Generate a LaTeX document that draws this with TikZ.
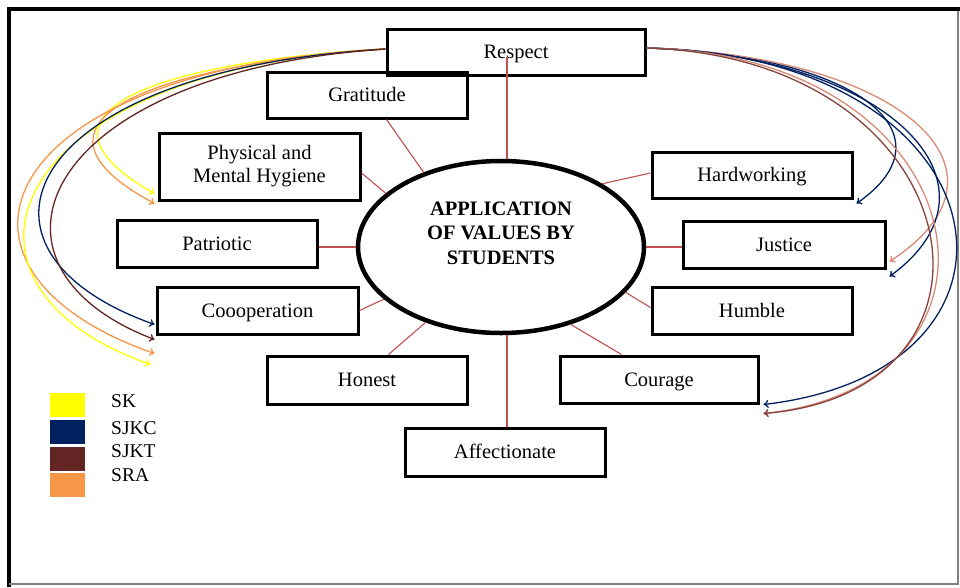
\documentclass[tikz,border=0pt]{standalone}
\usepackage{fontspec}
\setmainfont{Liberation Serif}
\usetikzlibrary{calc,arrows.meta,shapes.geometric}
\definecolor{skY}{HTML}{FFFF00}
\definecolor{sjkcB}{HTML}{002060}
\definecolor{sjktM}{HTML}{632523}
\definecolor{sraO}{HTML}{F79646}
\definecolor{linkR}{HTML}{C0504D}
\definecolor{salm}{HTML}{D98A76}
\begin{document}
\begin{tikzpicture}[x=1pt,y=-1pt,
  boxbase/.style={draw,line width=3pt,rectangle,inner sep=0pt,
    font=\fontsize{20.5}{23}\selectfont},
  box/.style={boxbase,text height=16pt,text depth=2.5pt},
  conn/.style={draw=linkR,line width=1.1pt},
  crv/.style={line width=1.3pt,-{To[length=5pt,width=8pt]}},
  legsq/.style={rectangle,inner sep=0pt,minimum width=35pt,minimum height=24pt},
  leglab/.style={anchor=west,inner sep=0pt,font=\fontsize{19.5}{22}\selectfont}
]
\useasboundingbox (0,0) rectangle (960,587);
\fill[white] (0,0) rectangle (960,587);
% frame
\draw[line width=4pt] (8.8,587) -- (8.8,8.8) -- (960,8.8);
\draw[gray,line width=1.2pt] (8.8,584) -- (958,584) -- (958,10.8);

% central ellipse
\node[ellipse,draw,line width=4.5pt,minimum width=286pt,minimum height=172pt,inner sep=0pt] (c) at (501,247) {};
\node[font=\bfseries\fontsize{20.5}{24.5}\selectfont,align=center] (title) at (501,233) {APPLICATION\\OF VALUES BY\\STUDENTS};

% boxes
\node[box,minimum width=258pt,minimum height=46pt] (respect) at (516,52) {Respect};
\node[box,minimum width=200pt,minimum height=46pt] (grat) at (367,95) {Gratitude};
\node[boxbase,align=center,minimum width=201pt,minimum height=67pt] (phys) at (259.5,166.5) {Physical and\\Mental Hygiene};
\node[box,minimum width=200pt,minimum height=47pt] (patr) at (217,243.5) {Patriotic};
\node[box,minimum width=201pt,minimum height=47pt] (coop) at (257.5,310.5) {Coooperation};
\node[box,minimum width=200pt,minimum height=48pt] (honest) at (367,380) {Honest};
\node[box,minimum width=200pt,minimum height=48pt] (affect) at (505,452) {Affectionate};
\node[box,minimum width=198pt,minimum height=47pt] (courage) at (659,379.5) {Courage};
\node[box,minimum width=200pt,minimum height=47pt] (humble) at (752,310.5) {Humble};
\node[box,minimum width=202pt,minimum height=47pt] (justice) at (784,244.5) {Justice};
\node[box,minimum width=200pt,minimum height=46pt] (hard) at (752,175) {Hardworking};

% connectors to the ellipse
\coordinate (rtop) at (507,57);
\draw[conn] (rtop) -- (rtop |- c.north);
\draw[conn] ($(grat.south west)+(121,0)$) -- (c.136);
\draw[conn] ($(phys.east)+(0,6.5)$) -- (c.155);
\draw[conn] (patr.east |- c.west) -- (c.west);
\draw[conn] (coop.east) -- (c.204);
\draw[conn] ($(honest.north west)+(123,0)$) -- (c.225);
\draw[conn] (affect.north -| rtop) -- (rtop |- c.south);
\draw[conn] ($(courage.north west)+(63,0)$) -- (c.312);
\draw[conn] ($(humble.west)+(0,-3)$) -- (c.340);
\draw[conn] (c.east) -- (c.east -| justice.west);
\draw[conn] ($(hard.west)+(0,-2)$) -- (c.32);

% curve end points
\coordinate (lS) at ($(respect.west)+(0,-3)$);
\coordinate (rS) at ($(respect.east)+(0,-4)$);
\coordinate (physE1) at ($(phys.south west)+(-3,-8)$);
\coordinate (physE2) at ($(phys.south west)+(-3,2)$);
\coordinate (coopE1) at ($(coop.south west)+(-1,-11)$);
\coordinate (coopE2) at ($(coop.south west)+(-1,4)$);
\coordinate (coopE3) at ($(coop.south west)+(-1,18)$);
\coordinate (coopE4) at ($(coop.south west)+(-5,29)$);
\coordinate (hardE) at ($(hard.south east)+(3,4)$);
\coordinate (justE1) at ($(justice.south east)+(3,-8)$);
\coordinate (justE2) at ($(justice.south east)+(3,7)$);
\coordinate (courE1) at ($(courage.south east)+(4,0)$);
\coordinate (courE2) at ($(courage.south east)+(4,9)$);

% left curves
\draw[crv,draw=skY] (lS) .. controls (150,62) and (15,115) .. (physE1);
\draw[crv,draw=sraO] (lS) .. controls (140,66) and (8,125) .. (physE2);
\draw[crv,draw=sraO] (lS) .. controls (-10,68) and (-85,270) .. (coopE3);
\draw[crv,draw=skY] (lS) .. controls (0,70) and (-75,285) .. (coopE4);
\draw[crv,draw=sjkcB] (lS) .. controls (20,70) and (-55,250) .. (coopE1);
\draw[crv,draw=sjktM] (lS) .. controls (40,72) and (-40,265) .. (coopE2);

% right curves
\draw[crv,draw=sjkcB] (rS) .. controls (860,55) and (955,135) .. (hardE);
\draw[crv,draw=salm] (rS) .. controls (900,55) and (1030,170) .. (justE1);
\draw[crv,draw=sjkcB] (rS) .. controls (890,55) and (1015,185) .. (justE2);
\draw[crv,draw=sjkcB] (rS) .. controls (1010,55) and (1060,370) .. (courE1);
\draw[crv,draw=salm] (rS) .. controls (985,55) and (1035,385) .. (courE2);
\draw[crv,draw=sjktM!70!salm] (rS) .. controls (975,58) and (1030,392) .. (courE2);

% legend
\node[legsq,fill=skY] (lgY) at (67.5,404.5) {};
\node[legsq,fill=sjkcB] (lgB) at (67.5,432) {};
\node[legsq,fill=sjktM] (lgM) at (67.5,459) {};
\node[legsq,fill=sraO] (lgO) at (67.5,484.5) {};
\node[leglab] (tSK) at (111,401.5) {SK};
\node[leglab] (tSJKC) at (111,428) {SJKC};
\node[leglab] (tSJKT) at (111,451) {SJKT};
\node[leglab] (tSRA) at (111,475) {SRA};
\end{tikzpicture}
\end{document}
